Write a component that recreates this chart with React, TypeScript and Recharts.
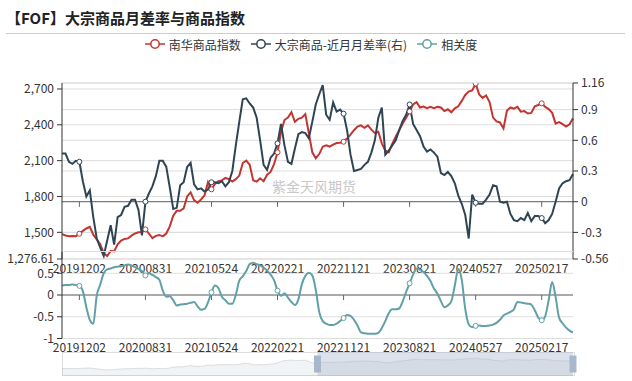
import { ComposedChart, Line, Area, XAxis, YAxis, CartesianGrid, ReferenceLine, ReferenceArea } from "recharts"

// weekly points sampled every 2 weeks, x = week index
const tickWeeks = [10, 48, 86, 124, 162, 200, 238, 276]
const tickLabels = ["20191202", "20200831", "20210524", "20220221", "20221121", "20230821", "20240527", "20250217"]

const nanhua = [
  1485, 1474, 1468, 1470, 1468, 1488, 1512, 1532, 1545, 1480,
  1440, 1400, 1325, 1302, 1345, 1340, 1400, 1430, 1445, 1449,
  1472, 1490, 1500, 1502, 1525, 1490, 1452, 1470, 1478, 1466,
  1490, 1550, 1640, 1680, 1680, 1700, 1800, 1835, 1770, 1748,
  1775, 1810, 1920, 1860, 1905, 1928, 1935, 1955, 1945, 1925,
  1945, 1975, 2080, 2100, 2065, 1935, 1924, 1952, 1928, 1982,
  2005, 2070, 2170, 2340, 2440, 2460, 2505, 2425, 2450, 2460,
  2490, 2330, 2170, 2120, 2155, 2217, 2228, 2218, 2235, 2248,
  2250, 2258, 2285, 2318, 2355, 2385, 2395, 2375, 2395, 2360,
  2330, 2342, 2245, 2185, 2170, 2240, 2300, 2355, 2410, 2460,
  2512, 2570, 2590, 2545, 2552, 2540, 2550, 2540, 2550, 2545,
  2515, 2530, 2505, 2538, 2555, 2600, 2650, 2678, 2688, 2745,
  2655, 2625, 2645, 2590, 2460, 2428, 2420, 2370, 2520, 2545,
  2535, 2550, 2510, 2515, 2495, 2500, 2555, 2566, 2580, 2550,
  2532, 2500, 2410, 2422, 2405, 2385, 2405, 2455,
]

const spread = [
  0.47, 0.47, 0.39, 0.37, 0.4, 0.39, 0.2, 0.05, 0.11, -0.15,
  -0.36, -0.45, -0.53, -0.38, -0.23, -0.42, -0.15, -0.13, -0.05, -0.04,
  0.02, 0.02, -0.08, -0.33, 0.0, 0.08, 0.15, 0.25, 0.4, 0.4,
  0.34, 0.14, -0.07, -0.06, 0.16, 0.19, 0.34, 0.38, 0.17, 0.12,
  0.13, 0.1, 0.12, 0.19, 0.19, 0.18, 0.2, 0.15, 0.19, 0.3,
  0.55, 0.78, 1.0, 1.01, 0.96, 0.92, 0.82, 0.6, 0.36, 0.31,
  0.43, 0.47, 0.57, 0.76, 0.55, 0.39, 0.37, 0.52, 0.66, 0.68,
  0.67, 0.62, 0.78, 0.95, 1.05, 1.14, 0.85, 0.8, 0.97, 0.88,
  0.9, 0.86, 0.7, 0.46, 0.3, 0.31, 0.32, 0.36, 0.39, 0.48,
  0.6, 0.82, 0.92, 0.46, 0.5, 0.55, 0.6, 0.7, 0.79, 0.85,
  0.95, 0.76, 0.7, 0.64, 0.54, 0.49, 0.51, 0.48, 0.44, 0.28,
  0.26, 0.29, 0.25, 0.18, 0.06, -0.02, -0.13, -0.36, 0.07, -0.01,
  -0.02, -0.02, 0.02, 0.07, 0.16, 0.15, 0.0, -0.01, 0.0, -0.12,
  -0.18, -0.19, -0.16, -0.18, -0.11, -0.19, -0.14, -0.14, -0.16, -0.21,
  -0.18, -0.12, 0.0, 0.13, 0.18, 0.2, 0.21, 0.27,
]

const corr = [
  0.22, 0.23, 0.23, 0.24, 0.23, 0.21, 0.09, -0.28, -0.57, -0.66,
  -0.01, 0.24, 0.5, 0.59, 0.61, 0.64, 0.65, 0.66, 0.68, 0.7,
  0.68, 0.64, 0.6, 0.55, 0.45, 0.5, 0.46, 0.41, 0.35, 0.1,
  -0.04, -0.03, -0.12, -0.24, -0.22, -0.21, -0.2, -0.18, -0.16, -0.26,
  -0.34, -0.32, -0.17, 0.06, 0.22, 0.16, -0.04, -0.12, -0.2, -0.2,
  0.0, 0.33, 0.43, 0.55, 0.71, 0.74, 0.71, 0.68, 0.63, 0.56,
  0.47, 0.34, 0.1, -0.02, 0.04, -0.06, -0.16, -0.23, -0.1, 0.25,
  0.44, 0.51, 0.45, 0.12, -0.39, -0.6, -0.66, -0.69, -0.69, -0.66,
  -0.6, -0.53, -0.46, -0.48, -0.57, -0.7, -0.86, -0.88, -0.89, -0.89,
  -0.89, -0.87, -0.76, -0.6, -0.42, -0.33, -0.33, -0.31, -0.15, 0.07,
  0.27, 0.47, 0.61, 0.58, 0.53, 0.44, 0.32, 0.15, 0.03, -0.14,
  -0.28, -0.24, -0.14, 0.22, 0.6, 0.35, -0.32, -0.67, -0.74, -0.71,
  -0.7, -0.71, -0.71, -0.7, -0.68, -0.64, -0.57, -0.47, -0.43, -0.39,
  -0.33, -0.16, -0.17, -0.19, -0.2, -0.22, -0.35, -0.52, -0.58, -0.49,
  -0.12, 0.3, -0.05, -0.52, -0.65, -0.75, -0.82, -0.86,
]

const leftTicks = [1276.61, 1500, 1800, 2100, 2400, 2700]
const rightTicks = [-0.56, -0.3, 0, 0.3, 0.6, 0.9, 1.16]
const corrTicks = [-1, -0.5, 0, 0.5]

const RED = "#c23531"
const DARK = "#2f4554"
const TEAL = "#61a0a8"
const FONT = '"Noto Sans CJK SC", "Noto Sans", sans-serif'

const rows = nanhua.map((v, i) => ({ w: i * 2, nh: v, spread: spread[i], corr: corr[i] }))
const markerIdx = tickWeeks.map((w) => w / 2)

const fmtWeek = (v: number) => {
  const k = tickWeeks.indexOf(v)
  return k >= 0 ? tickLabels[k] : ""
}

const markerDot = (color: string) => (props: any) => {
  const { cx, cy, index } = props
  if (!markerIdx.includes(index)) return <g key={`d${index}`} />
  return <circle key={`d${index}`} cx={cx} cy={cy} r={2.5} fill="#fff" stroke={color} strokeWidth={1} />
}

const axisTick = { fontSize: 12, fill: "#333" }

function LegendItem({ color, label }: { color: string; label: string }) {
  return (
    <div style={{ display: "flex", alignItems: "center", marginRight: 10 }}>
      <svg width={20} height={12}>
        <line x1={0} y1={6} x2={20} y2={6} stroke={color} strokeWidth={1.5} />
        <circle cx={10} cy={6} r={4.2} fill="#fff" stroke={color} strokeWidth={1.5} />
      </svg>
      <span style={{ marginLeft: 4, fontSize: 12, color: "#333" }}>{label}</span>
    </div>
  )
}

export default function App() {
  return (
    <div style={{ position: "absolute", left: 0, top: 0, width: 632, height: 381, background: "#fff", fontFamily: FONT, overflow: "hidden" }}>
      <div style={{ position: "absolute", left: 6, top: 8, fontSize: 15, fontWeight: 700, color: "#222", lineHeight: "20px" }}>
        【FOF】大宗商品月差率与商品指数
      </div>
      <div style={{ position: "absolute", left: 6, right: 7, top: 33, height: 1, background: "#ccc" }} />
      <div style={{ position: "absolute", left: 0, width: 632, top: 36, height: 16, display: "flex", justifyContent: "center" }}>
        <LegendItem color={RED} label="南华商品指数" />
        <LegendItem color={DARK} label="大宗商品-近月月差率(右)" />
        <LegendItem color={TEAL} label="相关度" />
      </div>
      <div style={{ position: "absolute", left: 272, top: 176, fontSize: 14, color: "#c8c8c8" }}>紫金天风期货</div>

      <div style={{ position: "absolute", left: 0, top: 0 }}>
        <ComposedChart width={632} height={290} data={rows} margin={{ top: 83, right: 0, bottom: 11, left: 0 }}>
          <CartesianGrid yAxisId="left" vertical={false} stroke="#ddd" />
          <CartesianGrid yAxisId="right" vertical={false} stroke="#ddd" />
          <XAxis
            dataKey="w"
            type="number"
            domain={[0, 294]}
            ticks={tickWeeks}
            interval={0}
            tickFormatter={fmtWeek}
            axisLine={false}
            tickLine={false}
            tickSize={3}
            height={20}
            tick={axisTick}
          />
          <YAxis
            yAxisId="left"
            width={62}
            domain={[1276.61, 2750]}
            allowDataOverflow
            ticks={leftTicks}
            interval={0}
            tickFormatter={(v: number) => v.toLocaleString("en-US")}
            axisLine={{ stroke: "#333" }}
            tickLine={{ stroke: "#333" }}
            tickSize={5}
            tickMargin={3}
            tick={axisTick}
          />
          <YAxis
            yAxisId="right"
            orientation="right"
            width={59}
            domain={[-0.56, 1.16]}
            allowDataOverflow
            ticks={rightTicks}
            interval={0}
            axisLine={{ stroke: "#333" }}
            tickLine={{ stroke: "#333" }}
            tickSize={5}
            tickMargin={3}
            tick={axisTick}
          />
          <ReferenceLine yAxisId="right" y={0} stroke="#666" />
          {tickWeeks.map((w) => (
            <ReferenceLine key={w} yAxisId="right" segment={[{ x: w, y: 0 }, { x: w, y: -0.05 }]} stroke="#666" />
          ))}
          <Line yAxisId="left" type="linear" dataKey="nh" stroke={RED} strokeWidth={2} dot={markerDot(RED)} activeDot={false} isAnimationActive={false} />
          <Line yAxisId="right" type="linear" dataKey="spread" stroke={DARK} strokeWidth={2} dot={markerDot(DARK)} activeDot={false} isAnimationActive={false} />
        </ComposedChart>
      </div>

      <div style={{ position: "absolute", left: 0, top: 0 }}>
        <ComposedChart width={632} height={381} data={rows} margin={{ top: 251.5, right: 59, bottom: 22.5, left: 0 }}>
          <CartesianGrid vertical={false} stroke="#ddd" />
          <XAxis
            dataKey="w"
            type="number"
            domain={[0, 294]}
            ticks={tickWeeks}
            interval={0}
            tickFormatter={fmtWeek}
            axisLine={false}
            tickLine={false}
            tickSize={3}
            height={20}
            tick={axisTick}
          />
          <YAxis
            width={62}
            domain={[-1, 1]}
            allowDataOverflow
            ticks={corrTicks}
            interval={0}
            axisLine={{ stroke: "#333" }}
            tickLine={{ stroke: "#333" }}
            tickSize={5}
            tickMargin={3}
            tick={axisTick}
          />
          <ReferenceLine y={0} stroke="#666" />
          {tickWeeks.map((w) => (
            <ReferenceLine key={w} segment={[{ x: w, y: 0 }, { x: w, y: -0.115 }]} stroke="#666" />
          ))}
          <Line type="monotone" dataKey="corr" stroke={TEAL} strokeWidth={2} dot={markerDot(TEAL)} activeDot={false} isAnimationActive={false} />
        </ComposedChart>
      </div>

      <div style={{ position: "absolute", left: 62, top: 352, width: 513, height: 24, border: "1px solid #ddd", boxSizing: "border-box" }} />
      <div style={{ position: "absolute", left: 0, top: 352 }}>
        <ComposedChart width={632} height={24} data={rows} margin={{ top: 0, right: 59, bottom: 0, left: 62 }}>
          <XAxis dataKey="w" type="number" domain={[0, 294]} hide />
          <YAxis domain={[575, 3475]} hide allowDataOverflow />
          <Area type="linear" dataKey="nh" stroke="rgba(47,69,84,0.3)" strokeWidth={0.5} fill="rgba(47,69,84,0.1)" baseValue="dataMin" isAnimationActive={false} />
          <ReferenceArea x1={147} x2={294} y1={575} y2={3475} fill="rgba(167,183,204,0.4)" fillOpacity={1} stroke="none" ifOverflow="visible" />
          <ReferenceArea x1={145} x2={149} y1={1000} y2={3050} fill="#a7b7cc" fillOpacity={1} stroke="none" ifOverflow="visible" />
          <ReferenceArea x1={292} x2={296} y1={1000} y2={3050} fill="#a7b7cc" fillOpacity={1} stroke="none" ifOverflow="visible" />
        </ComposedChart>
      </div>
    </div>
  )
}
